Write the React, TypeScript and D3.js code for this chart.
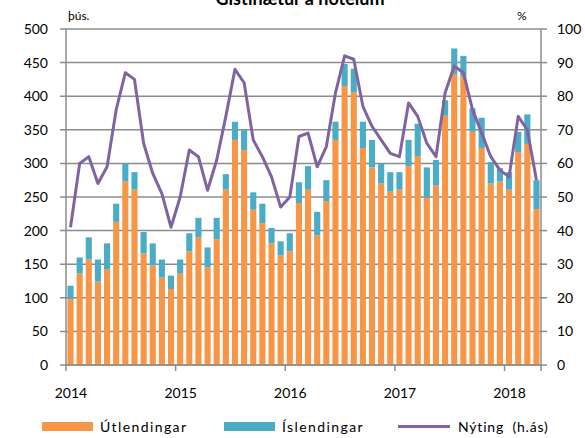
import * as d3 from 'd3'

// mánaðarleg gögn, jan 2014 - apr 2018
const months: string[] = d3.range(52).map(i => `${2014 + Math.floor(i / 12)}-${(i % 12) + 1}`)

// Útlendingar (þús.)
const foreign: number[] = [
  98, 136, 157, 124, 142, 213, 273, 261, 166, 148, 130, 113,
  136, 169, 190, 145, 187, 261, 335, 320, 231, 211, 181, 163,
  169, 241, 261, 193, 244, 335, 415, 406, 323, 294, 270, 258,
  261, 296, 311, 249, 267, 371, 433, 430, 347, 323, 270, 273,
  261, 317, 329, 232,
]

// Samtals (útlendingar + íslendingar)
const total: number[] = [
  118, 160, 190, 157, 181, 240, 300, 287, 198, 181, 157, 133,
  157, 196, 219, 175, 219, 284, 362, 350, 257, 240, 204, 184,
  196, 272, 296, 228, 275, 362, 448, 441, 362, 335, 299, 287,
  287, 335, 359, 294, 305, 394, 471, 460, 382, 368, 302, 293,
  287, 347, 373, 275,
]

const icelanders: number[] = total.map((t, i) => t - foreign[i])

// Nýting (%)
const occupancy: number[] = [
  41, 60, 62, 54, 59, 76, 87, 85, 66, 57, 51, 41,
  50, 64, 62, 52, 61, 74, 88, 84, 67, 62, 56, 47,
  50, 68, 69, 59, 65, 81, 92, 91, 77, 71, 67, 63,
  62, 78, 74, 66, 62, 81, 89, 87, 76, 69, 62, 58,
  56, 74, 70, 55,
]

const yearLabels: string[] = ['2014', '2015', '2016', '2017', '2018']
const leftTicks: number[] = d3.range(0, 501, 50)
const rightTicks: number[] = d3.range(0, 101, 10)

const ORANGE = '#F79646'
const TEAL = '#4BACC6'
const PURPLE = '#8064A2'
const GRID = '#8c8c8c'
const FONT = 'Lato, "Open Sans", sans-serif'

export default function App() {
  const W = 585, H = 438
  const left = 66, right = 541, top = 29, bottom = 365

  const x = d3.scaleBand<string>().domain(months).range([left, right]).paddingInner(0.33).paddingOuter(0.16)
  const y = d3.scaleLinear().domain([0, 500]).range([bottom, top])
  const y2 = d3.scaleLinear().domain([0, 100]).range([bottom, top])
  const step = x.step()

  const line = d3.line<number>()
    .x((_, i) => (x(months[i]) as number) + x.bandwidth() / 2)
    .y(d => y2(d))

  return (
    <svg width={W} height={H} style={{ position: 'absolute', left: 0, top: 0, background: '#fff' }}
      fontFamily={FONT}>
      <text x={300} y={5} textAnchor="middle" fontSize={18} fontWeight="bold" fill="#000">Gistinætur á hótelum</text>
      <text x={68} y={20} fontSize={12} fill="#000">þús.</text>
      <text x={517} y={20} fontSize={12} fill="#000">%</text>

      {leftTicks.map(t => (
        <g key={'l' + t}>
          <line x1={left - 6} x2={right} y1={y(t)} y2={y(t)} stroke={GRID} strokeWidth={1.5} />
          <text x={48} y={y(t)} dy="0.35em" textAnchor="end" fontSize={14} fill="#000">{t}</text>
        </g>
      ))}
      {rightTicks.map(t => (
        <g key={'r' + t}>
          <line x1={right} x2={right + 6} y1={y2(t)} y2={y2(t)} stroke={GRID} strokeWidth={1.5} />
          <text x={557} y={y2(t)} dy="0.35em" textAnchor="start" fontSize={14} fill="#000">{t}</text>
        </g>
      ))}
      <line x1={left} x2={left} y1={top} y2={bottom + 6} stroke={GRID} strokeWidth={1.5} />
      <line x1={right} x2={right} y1={top} y2={bottom + 6} stroke={GRID} strokeWidth={1.5} />

      {yearLabels.map((lab, i) => {
        const xt = left + i * 12 * step
        return (
          <g key={lab}>
            {i > 0 && <line x1={xt} x2={xt} y1={bottom} y2={bottom + 6} stroke={GRID} strokeWidth={1.5} />}
            <text x={xt + 5} y={398} textAnchor="middle" fontSize={14} fill="#000">{lab}</text>
          </g>
        )
      })}

      {months.map((m, i) => (
        <g key={m}>
          <rect x={x(m)} width={x.bandwidth()} y={y(foreign[i])} height={y(0) - y(foreign[i])} fill={ORANGE} />
          <rect x={x(m)} width={x.bandwidth()} y={y(total[i])} height={y(0) - y(icelanders[i]) } fill={TEAL} />
        </g>
      ))}
      <line x1={left} x2={right} y1={bottom} y2={bottom} stroke={GRID} strokeWidth={1.5} />

      <path d={line(occupancy) ?? ''} fill="none" stroke={PURPLE} strokeWidth={3} strokeLinejoin="round" />

      <g fontSize={14} fill="#000">
        <rect x={42} y={422} width={51} height={9} fill={ORANGE} />
        <text x={100} y={432} letterSpacing={1.4}>Útlendingar</text>
        <rect x={224} y={422} width={51} height={9} fill={TEAL} />
        <text x={282} y={432} letterSpacing={1.4}>Íslendingar</text>
        <line x1={398} x2={450} y1={426.5} y2={426.5} stroke={PURPLE} strokeWidth={3} />
        <text x={458} y={432} letterSpacing={0.8} wordSpacing={4}>Nýting (h.ás)</text>
      </g>
    </svg>
  )
}
